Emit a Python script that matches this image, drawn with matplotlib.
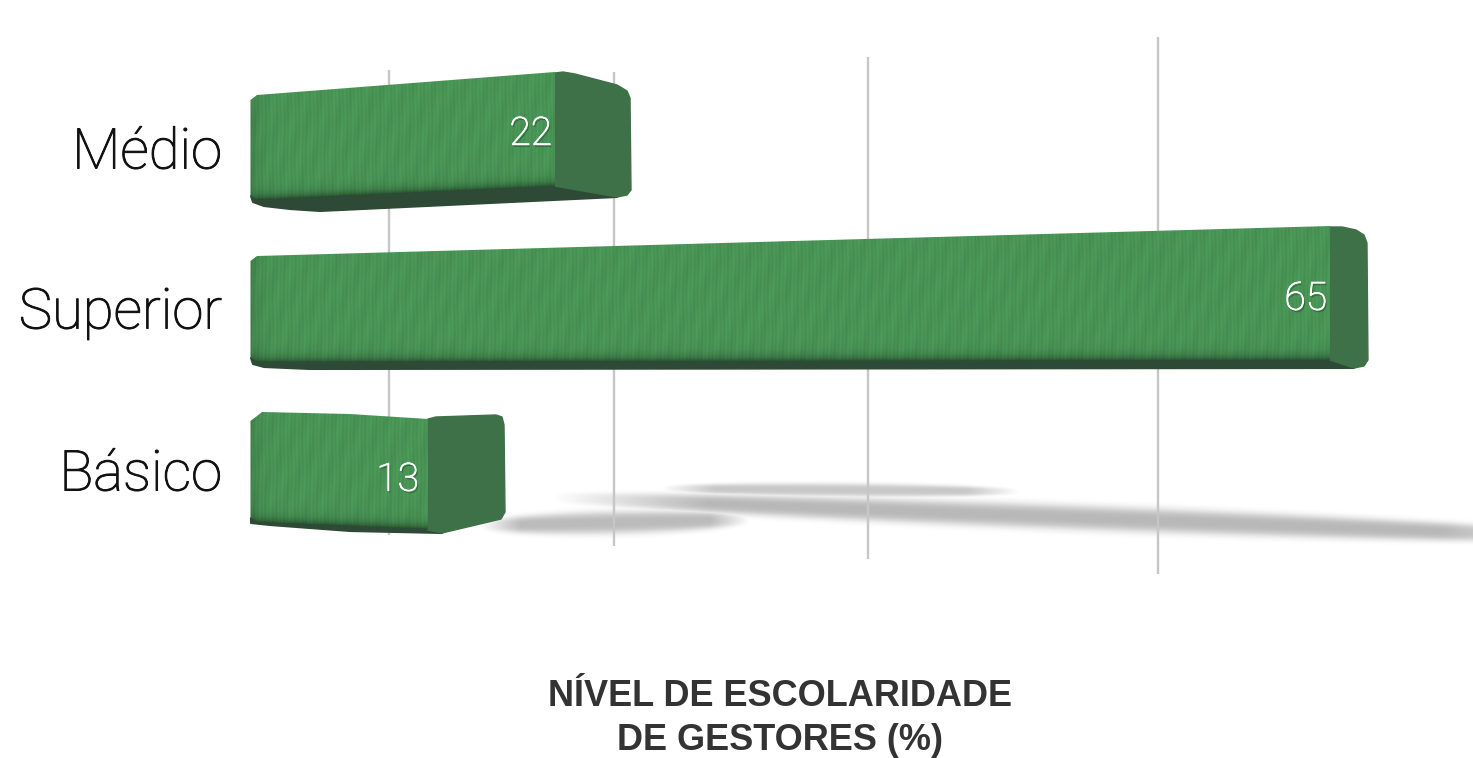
"""Nivel de escolaridade de gestores, pseudo 3D bars."""

import matplotlib

matplotlib.use("Agg")
import matplotlib.pyplot as plt
import matplotlib.patheffects as pe
import numpy as np
from matplotlib.patches import Polygon, PathPatch
from matplotlib.path import Path

W, H = 1473, 758

CATEGORIES = ["Médio", "Superior", "Básico"]
VALUES = [22, 65, 13]
# no tick labels in the picture, positions estimated on the value scale
GRID_VALUES = [10.2, 26, 41.9, 57.2]
TITLE_LINES = ["NÍVEL DE ESCOLARIDADE", "DE GESTORES (%)"]

# perspective: value -> pixel, fitted on the front edges of the bars
X0 = 250
_grid_v = np.linspace(-25, 110, 3000)


def fwd(v):
    v = np.asarray(v, dtype=float)
    return X0 + v * (13.692 + 0.0191 * (v - 13) + 0.000863 * (v - 13) * (v - 22))


def inv(px):
    return np.interp(px, fwd(_grid_v), _grid_v)


# drawing layout, all y in pixels from the top
FRONT_Y = {
    "Médio": (95, 72, 186, 200),
    "Superior": (256, 226, 360, 362),
    "Básico": (416, 419, 529, 522),
}
SIDE = {
    "Médio": [(0, 73), (8, 72), (20, 74), (62, 85), (72, 91), (75, 98), (76, 190), (72, 195), (62, 197), (0, 186)],
    "Superior": [(0, 227), (12, 227), (26, 230), (34, 235), (37, 243), (38, 360), (34, 366), (24, 368), (0, 360)],
    "Básico": [(0, 419), (8, 417), (68, 415), (74, 417), (76, 425), (77, 512), (73, 519), (14, 533), (0, 530)],
}
BOTTOM = {
    "Médio": [(3, 202), (14, 206), (40, 209), (70, 211)],
    "Superior": [(3, 364), (14, 367), (60, 369)],
    "Básico": [(1, 523), (20, 525), (100, 531)],
}
TOP_EXTRA = {
    "Médio": [],
    "Superior": [],
    "Básico": [(12, 412), (100, 414)],
}
LABEL_Y = {"Médio": 153, "Superior": 313, "Básico": 475}
VALUE_Y = {"Médio": 134, "Superior": 299, "Básico": 480}
VALUE_PAD = {"Médio": -3, "Superior": -3, "Básico": -9}
GRID_SPANS = [(70, 535), (72, 546), (57, 559), (37, 574)]

GREEN = np.array([0.285, 0.58, 0.335])
SIDE_COLOR = "#3f7149"
DARK = "#2e4a37"
GRID_COLOR = "#c6c6c6"

fig = plt.figure(figsize=(W / 100, H / 100), dpi=100)
under = fig.add_axes([0, 0, 1, 1], zorder=0)
ax = fig.add_axes([0, 0, 1, 1], zorder=1)
over = fig.add_axes([0, 0, 1, 1], zorder=2)
for a in (under, over):
    a.set_xlim(0, W)
    a.set_ylim(H, 0)
ax.set_xscale("function", functions=(fwd, inv))
ax.set_xlim(inv(0), inv(W))
ax.set_ylim(H, 0)
for a in (under, ax, over):
    a.axis("off")
    a.patch.set_alpha(0)

# floor shadows
yy, xx = np.mgrid[0:H, 0:W].astype(float)
shadow = np.zeros((H, W))
for x0, x1, y0, y1, half, peak in [
    (480, 750, 525, 519, 11, 0.27),
    (550, 1600, 497, 537, 12, 0.28),
    (660, 1020, 488, 491, 6.5, 0.22),
]:
    t = np.clip((xx - x0) / (x1 - x0), 0, 1)
    centre = y0 + (y1 - y0) * t
    h = half * (0.35 + 0.65 * np.sin(np.pi * t) ** 0.6)
    taper = np.clip(np.sin(np.pi * t) * 2.2, 0, 1)
    shadow = np.maximum(shadow, peak * taper * np.exp(-(np.abs((yy - centre) / h) ** 3)))
rgba = np.zeros((H, W, 4))
rgba[..., 3] = shadow
under.imshow(rgba, extent=(0, W, H, 0), aspect="auto", interpolation="bilinear")

for v, (y0, y1) in zip(GRID_VALUES, GRID_SPANS):
    ax.plot([v, v], [y0, y1], color=GRID_COLOR, lw=1.7, solid_capstyle="butt", zorder=1)

stripes = (
    np.sin(xx * 1.7 + 0.8 * np.sin(yy * 0.09))
    + 0.7 * np.sin(xx * 0.61 + yy * 0.05)
    + 0.5 * np.sin(xx * 0.23 + yy * 0.13)
)

for cat, val in zip(CATEGORIES, VALUES):
    tl, tr, br, bl = FRONT_Y[cat]
    end = fwd(val)

    def to_val(px):
        return float(inv(px))

    # dark underside and side face go through the value axis
    side_px = [(end + dx, y) for dx, y in SIDE[cat]]
    bottom_px = [(X0 + dx, y) for dx, y in BOTTOM[cat]]
    under_poly = [(end, br), side_px[-2]] + bottom_px[::-1] + [(X0 + 1, bl - 4)]
    ax.add_patch(Polygon([(to_val(x), y) for x, y in under_poly], closed=True,
                         fc=DARK, ec=DARK, lw=1.5, joinstyle="round", zorder=2))
    ax.add_patch(Polygon([(to_val(x), y) for x, y in side_px], closed=True,
                         fc=SIDE_COLOR, ec=SIDE_COLOR, lw=1, joinstyle="round", zorder=3))

    # textured front face, clip outline has soft left corners
    front_px = (
        [(X0 + 0.5, tl + 5), (X0 + 7, tl)]
        + [(X0 + dx, y) for dx, y in TOP_EXTRA[cat]]
        + [(end, tr), (end, br), (X0 + 7, bl), (X0 + 0.5, bl - 5)]
    )
    bottom_line = bl + (br - bl) * (xx - X0) / (end - X0)
    dark = 0.5 * np.exp(-np.clip(bottom_line - yy, 0, None) / 5)
    left = 0.14 * np.exp(-np.clip(xx - X0, 0, None) / 8)
    shade = (1 + 0.028 * stripes) * (1 - dark) * (1 - left)
    img = np.clip(GREEN[None, None, :] * shade[..., None], 0, 1)
    im = over.imshow(img, extent=(0, W, H, 0), aspect="auto", interpolation="bilinear", zorder=1)
    im.set_clip_path(PathPatch(Path(front_px + [front_px[0]]), transform=over.transData))

    over.text(end + VALUE_PAD[cat], VALUE_Y[cat], str(val), color="white", fontsize=28,
              family=["Roboto", "Liberation Sans"], fontweight="light", ha="right", va="center", zorder=5,
              path_effects=[pe.withSimplePatchShadow(offset=(1, -1.5), shadow_rgbFace="#1c3a22", alpha=0.5),
                            pe.withStroke(linewidth=0.6, foreground="white")])
    over.text(222, LABEL_Y[cat], cat, color="#111111", fontsize=40.5,
              family=["Roboto", "Liberation Sans"], fontweight="light", ha="right", va="center", zorder=5,
              path_effects=[pe.withStroke(linewidth=0.7, foreground="#111111")])

over.set_xlim(0, W)
over.set_ylim(H, 0)

for line, y in zip(TITLE_LINES, (697, 741)):
    over.text(780, y, line, color="#333333", fontsize=26, fontweight="bold",
              family="Liberation Sans", ha="center", va="center", zorder=5)

fig.savefig("out.png", dpi=100)
plt.close(fig)
